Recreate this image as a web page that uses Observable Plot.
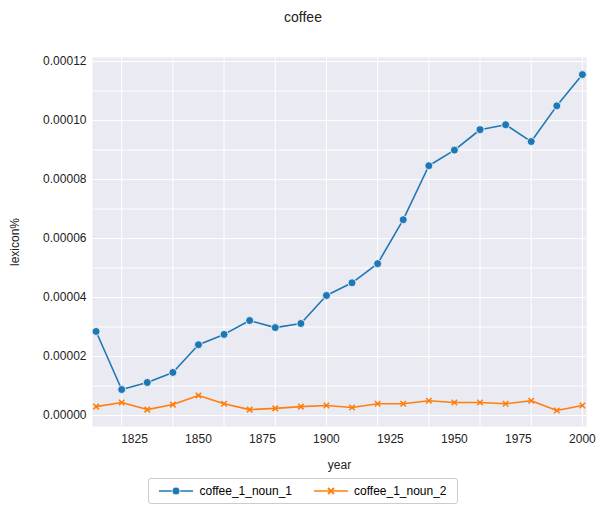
<!DOCTYPE html>
<html>
<head>
<meta charset="utf-8">
<script src="https://cdn.jsdelivr.net/npm/d3@7"></script>
<script src="https://cdn.jsdelivr.net/npm/@observablehq/plot@0.6"></script>
<style>
  body { margin: 0; font-family: "Liberation Sans", Arial, sans-serif; background: white; }
  #title { height: 40px; line-height: 34px; text-align: center; font-size: 14px; color: #222; }
  #legend { display: flex; justify-content: center; margin-top: 3px; }
  #legend .box { border: 1px solid #ccc; border-radius: 3px; padding: 5px 10px; font-size: 12px; display: flex; gap: 22px; }
  #legend span { display: flex; align-items: center; gap: 6px; }
</style>
</head>
<body>
<div id="title">coffee</div>
<div id="chart"></div>
<div id="legend"><div class="box">
  <span><svg width="34" height="10"><line x1="0" x2="34" y1="5" y2="5" stroke="#1f77b4" stroke-width="1.5"/><circle cx="17" cy="5" r="4" fill="#1f77b4" stroke="white" stroke-width="0.8"/></svg>coffee_1_noun_1</span>
  <span><svg width="34" height="10"><line x1="0" x2="34" y1="5" y2="5" stroke="#ff7f0e" stroke-width="1.5"/><path d="M14,2L20,8M20,2L14,8" stroke="#ff7f0e" stroke-width="1.8"/></svg>coffee_1_noun_2</span>
</div></div>
<script>
const years = [1810,1820,1830,1840,1850,1860,1870,1880,1890,1900,1910,1920,1930,1940,1950,1960,1970,1980,1990,2000];
const noun1 = [2.85,0.88,1.12,1.46,2.40,2.75,3.22,2.98,3.12,4.07,4.50,5.15,6.64,8.47,9.00,9.69,9.86,9.29,10.5,11.56];
const noun2 = [0.30,0.44,0.20,0.37,0.68,0.40,0.20,0.24,0.30,0.34,0.27,0.40,0.40,0.50,0.44,0.44,0.40,0.50,0.17,0.34];
const s1 = years.map((y, i) => ({year: y, v: noun1[i] * 1e-5}));
const s2 = years.map((y, i) => ({year: y, v: noun2[i] * 1e-5}));

const chart = Plot.plot({
  width: 606, height: 435,
  marginLeft: 92, marginRight: 20, marginTop: 17, marginBottom: 49,
  style: {fontSize: "12px", fontFamily: "Liberation Sans, Arial, sans-serif", color: "#222"},
  x: {domain: [1808.6, 2001.6], ticks: [1825,1850,1875,1900,1925,1950,1975,2000], tickFormat: d => String(d),
      label: "year", labelArrow: "none", labelAnchor: "center", labelOffset: 42, tickSize: 0, tickPadding: 8},
  y: {domain: [-0.373e-5, 12.14e-5], ticks: d3.range(0, 0.000121, 0.00002), tickFormat: d3.format(".5f"),
      label: "lexicon%", labelArrow: "none", labelAnchor: "center", labelOffset: 82, tickSize: 0, tickPadding: 6},
  marks: [
    Plot.frame({fill: "#eaeaf2", stroke: null}),
    Plot.gridX({stroke: "white", strokeOpacity: 1, strokeWidth: 1}),
    Plot.gridY({stroke: "white", strokeOpacity: 1, strokeWidth: 1}),
    Plot.line(s1, {x: "year", y: "v", stroke: "#1f77b4", strokeWidth: 1.6}),
    Plot.dot(s1, {x: "year", y: "v", fill: "#1f77b4", stroke: "white", strokeWidth: 0.8, r: 4}),
    Plot.line(s2, {x: "year", y: "v", stroke: "#ff7f0e", strokeWidth: 1.6}),
    Plot.dot(s2, {x: "year", y: "v", symbol: "times", stroke: "#ff7f0e", strokeWidth: 1.6, r: 2.6})
  ]
});
document.getElementById("chart").append(chart);
</script>
</body>
</html>
